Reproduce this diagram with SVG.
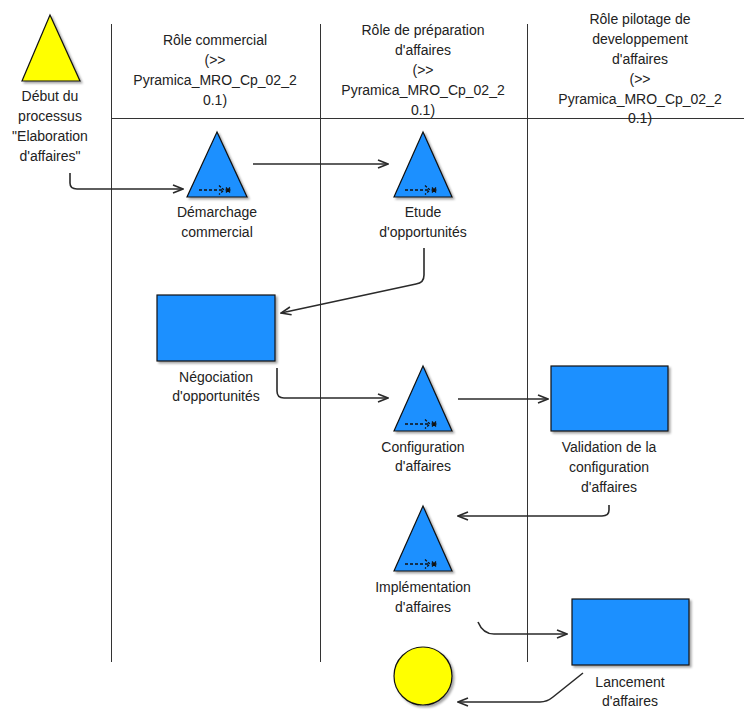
<svg xmlns="http://www.w3.org/2000/svg" xmlns:xlink="http://www.w3.org/1999/xlink" width="744" height="711" viewBox="0 0 744 711">
<style>
  text { font-family: "Liberation Sans", Arial, sans-serif; font-size: 14px; fill: #222; text-anchor: middle; }
  .lane { stroke: #333; stroke-width: 1; fill: none; }
  .blue { fill: #1E90FF; stroke: #111; stroke-width: 1.2; filter: url(#sh); }
  .yellow { fill: #FFFF00; stroke: #111; stroke-width: 1.2; filter: url(#sh); }
  .conn { fill: none; stroke: #2a2a2a; stroke-width: 1.6; marker-end: url(#arr); }
  .ico { fill: none; stroke: #111; stroke-width: 1.3; }
</style>
<defs>
  <filter id="sh" x="-20%" y="-20%" width="150%" height="150%">
    <feDropShadow dx="2" dy="2" stdDeviation="1" flood-color="#000" flood-opacity="0.35"/>
  </filter>
  <marker id="arr" viewBox="0 0 12 10" refX="11" refY="5" markerWidth="12" markerHeight="10" markerUnits="userSpaceOnUse" orient="auto">
    <path d="M1,1 L11,5 L1,9" fill="none" stroke="#2a2a2a" stroke-width="1.6"/>
  </marker>
  <g id="icon">
    <line class="ico" x1="-18" y1="58" x2="5" y2="58" stroke-dasharray="3,2"/>
    <path class="ico" d="M2,53.5 L7,58 L2,62.5" stroke-dasharray="2.5,1.5"/>
    <path class="ico" d="M9,55.5 L13,60.5 M13,55.5 L9,60.5 M8.5,58 L13.5,58"/>
  </g>
</defs>

<g id="swimlanes">
  <line class="lane" x1="111.5" y1="24" x2="111.5" y2="662"/>
  <line class="lane" x1="320.5" y1="24" x2="320.5" y2="662"/>
  <line class="lane" x1="527.5" y1="24" x2="527.5" y2="662"/>
  <line class="lane" x1="111.5" y1="118.5" x2="744" y2="118.5"/>
</g>

<g id="lane-commercial">
  <text x="215" y="45">Rôle commercial</text>
  <text x="215" y="65">(&gt;&gt;</text>
  <text x="215" y="85">Pyramica_MRO_Cp_02_2</text>
  <text x="215" y="105">0.1)</text>
</g>
<g id="lane-preparation">
  <text x="423" y="35">Rôle de préparation</text>
  <text x="423" y="55">d'affaires</text>
  <text x="423" y="75">(&gt;&gt;</text>
  <text x="423" y="95">Pyramica_MRO_Cp_02_2</text>
  <text x="423" y="115">0.1)</text>
</g>
<g id="lane-pilotage">
  <text x="640" y="24">Rôle pilotage de</text>
  <text x="640" y="44">developpement</text>
  <text x="640" y="64">d'affaires</text>
  <text x="640" y="84">(&gt;&gt;</text>
  <text x="640" y="104">Pyramica_MRO_Cp_02_2</text>
  <text x="640" y="123">0.1)</text>
</g>

<g id="connectors">
  <path class="conn" d="M70,173 L70,183 Q70,189 77,189 L183,189"/>
  <path class="conn" d="M253,164 L388,164"/>
  <path class="conn" d="M424,248 L424,275 Q424,283 416,284 L281,313"/>
  <path class="conn" d="M277,368 L277,391 Q277,398 284,398 L388,398"/>
  <path class="conn" d="M458,399 L548,399"/>
  <path class="conn" d="M609,505 L609,510 Q609,516 602,516 L458,516"/>
  <path class="conn" d="M478,622 Q483,634 494,634 L567,634"/>
  <path class="conn" d="M583,673 L553,697 Q547,702 540,702 L458,702"/>
</g>

<g id="start">
  <polygon class="yellow" points="50,15 22,81 80,81"/>
  <text x="50" y="101">Début du</text>
  <text x="50" y="121">processus</text>
  <text x="50" y="141">"Elaboration</text>
  <text x="50" y="161">d'affaires"</text>
</g>

<g id="demarchage">
  <polygon class="blue" points="217,132 187,197 247,197"/>
  <use xlink:href="#icon" href="#icon" transform="translate(217,132)"/>
  <text x="217" y="217">Démarchage</text>
  <text x="217" y="237">commercial</text>
</g>

<g id="etude">
  <polygon class="blue" points="423,132 394,197 452,197"/>
  <use xlink:href="#icon" href="#icon" transform="translate(423,132)"/>
  <text x="423" y="217">Etude</text>
  <text x="423" y="237">d'opportunités</text>
</g>

<g id="negociation">
  <rect class="blue" x="157" y="295" width="118" height="66"/>
  <text x="216" y="382">Négociation</text>
  <text x="216" y="401">d'opportunités</text>
</g>

<g id="configuration">
  <polygon class="blue" points="423,366 394,431 452,431"/>
  <use xlink:href="#icon" href="#icon" transform="translate(423,366)"/>
  <text x="423" y="452">Configuration</text>
  <text x="423" y="471">d'affaires</text>
</g>

<g id="validation">
  <rect class="blue" x="551" y="366" width="117" height="65"/>
  <text x="609" y="452">Validation de la</text>
  <text x="609" y="472">configuration</text>
  <text x="609" y="492">d'affaires</text>
</g>

<g id="implementation">
  <polygon class="blue" points="423,506 394,571 452,571"/>
  <use xlink:href="#icon" href="#icon" transform="translate(423,506)"/>
  <text x="423" y="592">Implémentation</text>
  <text x="423" y="612">d'affaires</text>
</g>

<g id="lancement">
  <rect class="blue" x="572" y="599" width="117" height="66"/>
  <text x="630" y="687">Lancement</text>
  <text x="630" y="706">d'affaires</text>
</g>

<g id="end">
  <circle class="yellow" cx="423" cy="676" r="29"/>
</g>
</svg>
